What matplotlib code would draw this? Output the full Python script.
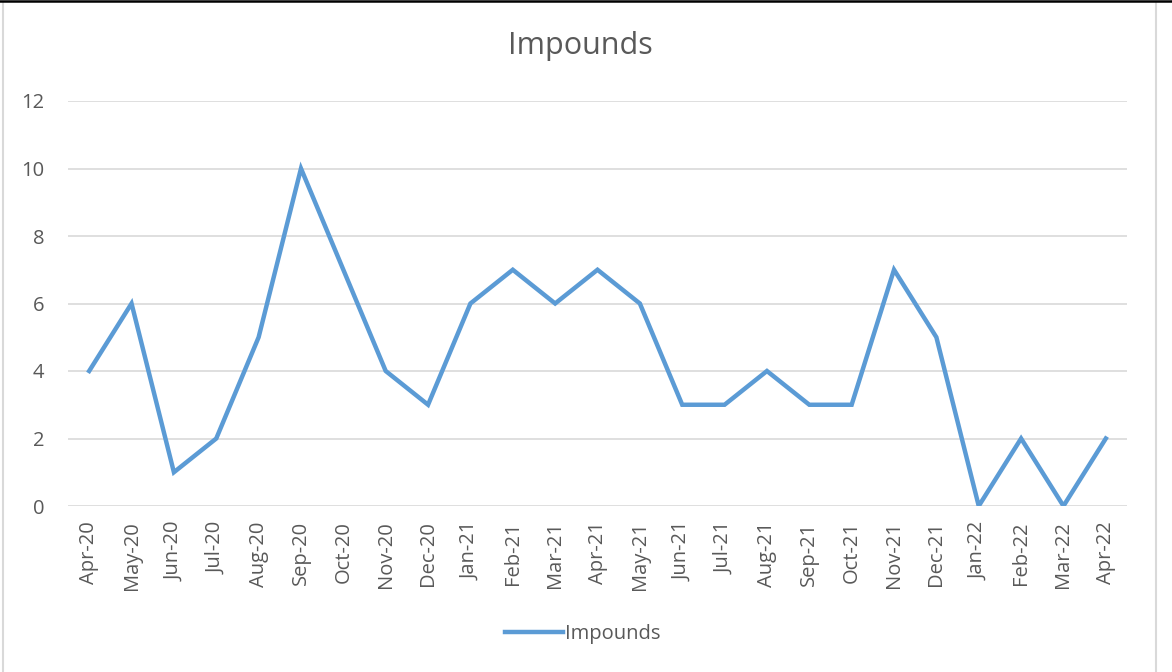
import matplotlib
matplotlib.use("Agg")
import matplotlib.pyplot as plt
from matplotlib.lines import Line2D

months = ["Apr-20", "May-20", "Jun-20", "Jul-20", "Aug-20", "Sep-20", "Oct-20",
          "Nov-20", "Dec-20", "Jan-21", "Feb-21", "Mar-21", "Apr-21", "May-21",
          "Jun-21", "Jul-21", "Aug-21", "Sep-21", "Oct-21", "Nov-21", "Dec-21",
          "Jan-22", "Feb-22", "Mar-22", "Apr-22"]
impounds = [4, 6, 1, 2, 5, 10, 7, 4, 3, 6, 7, 6, 7, 6, 3, 3, 4, 3, 3, 7, 5, 0, 2, 0, 2]
y_ticks = [0, 2, 4, 6, 8, 10, 12]

plt.rcParams["font.family"] = ["Open Sans", "DejaVu Sans"]
text_col = "#595959"
grid_col = "#d9d9d9"
line_col = "#5b9bd5"

W, H = 1172, 672
fig = plt.figure(figsize=(W / 100, H / 100), dpi=100)
ax = fig.add_axes([68 / W, 1 - 506 / H, (1127 - 68) / W, (506 - 101) / H])

x = list(range(len(months)))
ax.plot(x, impounds, color=line_col, lw=3.2, solid_joinstyle="miter",
        label="Impounds")

ax.set_xlim(-0.5, len(months) - 0.5)
ax.set_ylim(0, 12)
ax.set_yticks(y_ticks)
ax.set_xticks(x)
ax.set_xticklabels(months, rotation=90)
ax.tick_params(axis="both", length=0, labelsize=14.5, colors=text_col)
ax.tick_params(axis="y", pad=17)
ax.tick_params(axis="x", pad=11)
ax.grid(axis="y", color=grid_col, lw=1.2)
ax.set_axisbelow(True)
for s in ax.spines.values():
    s.set_visible(False)

fig.text(580 / W, 1 - 46 / H, "Impounds", ha="center", va="center",
         fontsize=22, color=text_col)

leg = fig.legend(loc="center", bbox_to_anchor=(583 / W, 1 - 634 / H),
                 frameon=False, fontsize=14.5, handlelength=2.9,
                 handletextpad=0.1, labelcolor=text_col)

# chart frame
fig.add_artist(Line2D([3 / W, 3 / W], [0, 1 - 3 / H], color=grid_col, lw=1.5))
fig.add_artist(Line2D([1156 / W, 1156 / W], [0, 1 - 3 / H], color=grid_col, lw=1.5))
fig.add_artist(Line2D([0, 1], [1 - 1.2 / H, 1 - 1.2 / H], color="black", lw=1.8))

fig.savefig("out.png", dpi=100)
